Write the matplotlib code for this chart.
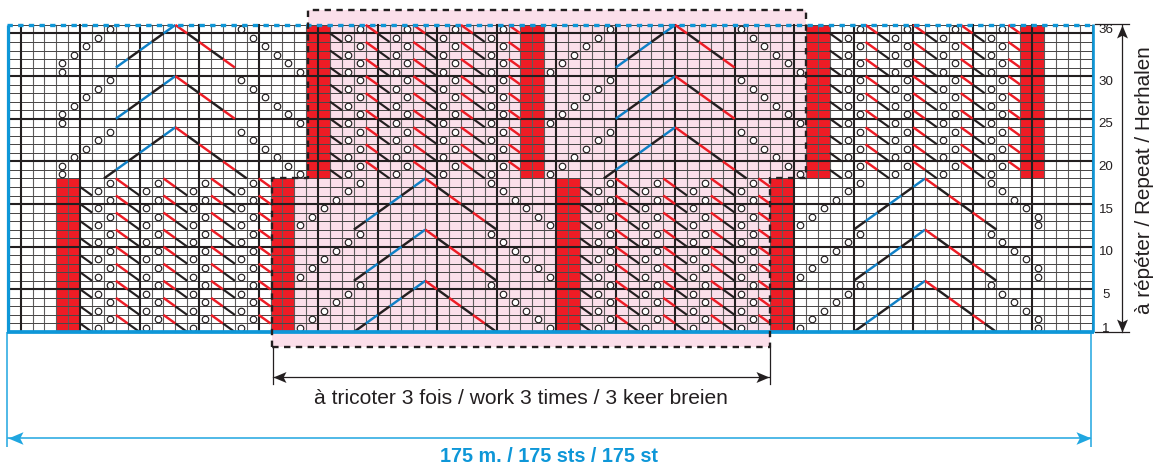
import matplotlib
matplotlib.use("Agg")
import matplotlib.pyplot as plt
from matplotlib.patches import Polygon

# ---------- data (columns counted from the left edge, rows from the bottom) ----------
n_cols = 91
n_rows = 36
heavy_cols = [1, 6, 11, 16, 21, 26, 31, 36, 41, 46, 51, 56, 61, 66, 71, 76, 81, 86]
heavy_rows = [5, 10, 15, 20, 25, 30, 35]
row_labels = [1, 5, 10, 15, 20, 25, 30, 36]

red_cols_upper = [25, 26, 43, 44, 67, 68, 85, 86]
red_cols_lower = [4, 5, 22, 23, 46, 47, 64, 65]

rows_upper_even = [20, 22, 24, 26, 28, 30, 32, 34, 36]
rows_upper_odd = [19, 21, 23, 25, 27, 29, 31, 33, 35]
rows_lower_even = [2, 4, 6, 8, 10, 12, 14, 16, 18]
rows_lower_odd = [1, 3, 5, 7, 9, 11, 13, 15, 17]

lace_upper_even_yo = [29, 33, 37, 41, 71, 75, 79, 83]
lace_upper_even_red = [30, 34, 38, 42, 72, 76, 80, 84]
lace_upper_odd_black = [27, 31, 35, 39, 69, 73, 77, 81]
lace_upper_odd_yo = [28, 32, 36, 40, 70, 74, 78, 82]

lace_lower_even_yo = [8, 12, 16, 20, 50, 54, 58, 62]
lace_lower_even_red = [9, 13, 17, 21, 51, 55, 59, 63]
lace_lower_odd_black = [6, 10, 14, 18, 48, 52, 56, 60]
lace_lower_odd_yo = [7, 11, 15, 19, 49, 53, 57, 61]

# chevrons: apex column, apex grid line, number of stitches per side
chevron_cols = [14, 14, 14, 56, 56, 56, 35, 35, 35, 77, 77, 77]
chevron_tops = [36, 30, 24, 36, 30, 24, 18, 12, 6, 18, 12, 6]
chevron_lens = [5, 5, 6, 5, 5, 6, 6, 6, 6, 6, 6, 6]

# diagonal yarn-overs, one list of rows and one list of columns
diag_rows_upper = [36, 35, 34, 33, 32, 31, 30, 29, 28, 27, 26, 25, 24, 23, 22, 21, 20, 19]
diag_cols_a = [8, 7, 6, 5, 4, 4, 8, 7, 6, 5, 4, 4, 8, 7, 6, 5, 4, 4]
diag_cols_b = [19, 20, 21, 22, 23, 24, 19, 20, 21, 22, 23, 24, 19, 20, 21, 22, 23, 24]
diag_cols_c = [50, 49, 48, 47, 46, 45, 50, 49, 48, 47, 46, 45, 50, 49, 48, 47, 46, 45]
diag_cols_d = [61, 62, 63, 64, 65, 66, 61, 62, 63, 64, 65, 66, 61, 62, 63, 64, 65, 66]
diag_rows_lower = [18, 17, 16, 15, 14, 13, 12, 11, 10, 9, 8, 7, 6, 5, 4, 3, 2, 1]
diag_cols_e = [29, 28, 27, 26, 25, 24, 29, 28, 27, 26, 25, 24, 29, 28, 27, 26, 25, 24]
diag_cols_f = [40, 41, 42, 43, 44, 45, 40, 41, 42, 43, 44, 45, 40, 41, 42, 43, 44, 45]
diag_cols_g = [71, 70, 69, 68, 67, 66, 71, 70, 69, 68, 67, 66, 71, 70, 69, 68, 67, 66]
diag_cols_h = [82, 83, 84, 85, 86, 86, 82, 83, 84, 85, 86, 86, 82, 83, 84, 85, 86, 86]

text_repeat = "à répéter / Repeat / Herhalen"
text_times = "à tricoter 3 fois / work 3 times / 3 keer breien"
text_total = "175 m. / 175 sts / 175 st"

# ---------- styles ----------
PINK = "#fbdfea"
RED = "#ee1c25"
CYAN = "#0e97d8"
LCYAN = "#1fa6e0"
DBLUE = "#0f80c6"
INK = "#231f20"
W, H = 1155, 467
CW, RH = 11.9, 8.53
X0, Y0 = 8.77, 332.0


def gx(px):
    return (px - X0) / CW


def gy(py):
    return (Y0 - py) / RH


plt.rcParams["font.family"] = ["Liberation Sans", "DejaVu Sans"]
fig = plt.figure(figsize=(W / 100, H / 100), dpi=100)
ax = fig.add_axes([0, 0, 1, 1])
ax.set_xlim(gx(0), gx(W))
ax.set_ylim(gy(H), gy(0))
ax.axis("off")

# pink repeat panel
LOWER_L, UPPER_L = gx(271.5), gx(308)
ax.add_patch(Polygon([(LOWER_L, gy(347)), (LOWER_L, 18), (UPPER_L, 18), (UPPER_L, gy(10)),
                      (67, gy(10)), (67, 18), (64, 18), (64, gy(347))],
                     closed=True, fc=PINK, ec="none", zorder=1))

# red columns
for c in red_cols_upper:
    ax.fill_between([c, c + 1], 18, n_rows, color=RED, lw=0, zorder=2)
for c in red_cols_lower:
    ax.fill_between([c, c + 1], 0, 18, color=RED, lw=0, zorder=2)

# grid
for c in range(n_cols + 1):
    if c not in heavy_cols:
        ax.plot([c, c], [0, n_rows], color="#5f5d5d", lw=0.8, zorder=3)
for r in range(n_rows + 1):
    if r not in heavy_rows:
        ax.plot([0, n_cols], [r, r], color="#4a4848", lw=0.72, zorder=3)
for c in heavy_cols:
    ax.plot([c, c], [0, n_rows], color=INK, lw=1.5, zorder=3.1)
for r in heavy_rows:
    ax.plot([0, n_cols], [r, r], color=INK, lw=1.5, zorder=3.1)

# lace slashes
SL = 1.75
for r in rows_upper_even:
    for c in lace_upper_even_red:
        ax.plot([c, c + 1], [r, r - 1], color=RED, lw=SL, zorder=4, solid_capstyle="butt")
for r in rows_lower_even:
    for c in lace_lower_even_red:
        ax.plot([c, c + 1], [r, r - 1], color=RED, lw=SL, zorder=4, solid_capstyle="butt")
for r in rows_upper_odd:
    for c in lace_upper_odd_black:
        ax.plot([c, c + 1], [r, r - 1], color=INK, lw=SL - 0.2, zorder=4, solid_capstyle="butt")
for r in rows_lower_odd:
    for c in lace_lower_odd_black:
        ax.plot([c, c + 1], [r, r - 1], color=INK, lw=SL - 0.2, zorder=4, solid_capstyle="butt")

# chevrons
for c0, k0, n in zip(chevron_cols, chevron_tops, chevron_lens):
    for i in range(n):
        left = DBLUE if i % 2 == 0 else INK
        right = RED if i % 2 == 0 else INK
        ax.plot([c0 - i, c0 - i - 1], [k0 - i, k0 - i - 1], color=left, lw=SL, zorder=4,
                solid_capstyle="butt")
        ax.plot([c0 + i, c0 + i + 1], [k0 - i, k0 - i - 1], color=right, lw=SL, zorder=4,
                solid_capstyle="butt")

# yarn-overs
yo_x, yo_y = [], []
for rows, cols in [(rows_upper_even, lace_upper_even_yo), (rows_upper_odd, lace_upper_odd_yo),
                   (rows_lower_even, lace_lower_even_yo), (rows_lower_odd, lace_lower_odd_yo)]:
    for r in rows:
        for c in cols:
            yo_x.append(c + 0.5)
            yo_y.append(r - 0.5)
for rows, cols in [(diag_rows_upper, diag_cols_a), (diag_rows_upper, diag_cols_b),
                   (diag_rows_upper, diag_cols_c), (diag_rows_upper, diag_cols_d),
                   (diag_rows_lower, diag_cols_e), (diag_rows_lower, diag_cols_f),
                   (diag_rows_lower, diag_cols_g), (diag_rows_lower, diag_cols_h)]:
    yo_x.extend(c + 0.5 for c in cols)
    yo_y.extend(r - 0.5 for r in rows)
ax.plot(yo_x, yo_y, ls="none", marker="o", ms=4.7, mfc="white", mec=INK, mew=0.85, zorder=5)

# chart frame
ax.plot([gx(8.3), gx(8.3)], [0, n_rows], color=CYAN, lw=2.3, zorder=6, solid_capstyle="butt")
ax.plot([gx(1093), gx(1093)], [0, n_rows + 0.1], color=CYAN, lw=1.9, zorder=6, solid_capstyle="butt")
ax.plot([gx(7), gx(1094)], [0, 0], color=CYAN, lw=2.7, zorder=6, solid_capstyle="butt")
ax.plot([gx(7), gx(1094)], [n_rows, n_rows], color=CYAN, lw=2.4, zorder=7,
        dashes=(1.6, 1.6), dash_capstyle="butt")

# dashed outline of the repeat
ax.plot([LOWER_L, LOWER_L, UPPER_L, UPPER_L, 67, 67, 64, 64, LOWER_L],
        [gy(347), 18, 18, gy(10), gy(10), 18, 18, gy(347), gy(347)],
        color=INK, lw=1.7, zorder=8, dashes=(2.7, 2.3), dash_capstyle="butt")


def head(x, y, angle, size, color, z=9):
    """Notched arrow head, tip on (x, y), pointing along angle (0=left, 1=right, 2=up, 3=down)."""
    base = [(0, 0), (1, 0.42), (0.78, 0), (1, -0.42), (0, 0)]
    if angle == 1:
        base = [(-a, b) for a, b in base]
    elif angle == 2:
        base = [(b, -a) for a, b in base]
    elif angle == 3:
        base = [(b, a) for a, b in base]
    ax.plot([x], [y], marker=base, ms=size * 0.72 * 2, mfc=color, mec=color, mew=0, ls="none",
            zorder=z, clip_on=False)


# repeat width arrow
for px in (272.5, 769.5):
    ax.plot([gx(px), gx(px)], [gy(347), gy(384)], color=INK, lw=0.9, zorder=9)
ax.plot([gx(273), gx(769)], [gy(377.3), gy(377.3)], color=INK, lw=0.9, zorder=9)
head(gx(273), gy(377.3), 0, 13, INK)
head(gx(769), gy(377.3), 1, 13, INK)
ax.text(gx(520.5), gy(398), text_times, fontsize=15.1, color=INK, ha="center", va="center")

# total width arrow
ax.plot([gx(7), gx(7)], [0, gy(447)], color=LCYAN, lw=1.1, zorder=5, solid_capstyle="butt")
ax.plot([gx(1090.7), gx(1090.7)], [0, gy(447)], color=LCYAN, lw=1.1, zorder=5, solid_capstyle="butt")
ax.plot([gx(8), gx(1090)], [gy(438), gy(438)], color=LCYAN, lw=1.1, zorder=9)
head(gx(7.5), gy(438), 0, 15, LCYAN)
head(gx(1090.5), gy(438), 1, 15, LCYAN)
ax.text(gx(549), gy(456), text_total, fontsize=14.2, fontweight="bold", color=CYAN,
        ha="center", va="center")

# row labels and repeat arrow
for r in row_labels:
    ax.text(gx(1106), r - 0.65, str(r), fontsize=9.6, color=INK, ha="center", va="center",
            family=["Liberation Sans Narrow", "Liberation Sans"])
for k in (0, n_rows):
    ax.plot([gx(1095), gx(1129)], [k + 0.05, k + 0.05], color=INK, lw=0.9, zorder=5)
ax.plot([gx(1121.7), gx(1121.7)], [0, n_rows], color=INK, lw=0.9, zorder=5)
head(gx(1121.7), n_rows, 2, 13, INK)
head(gx(1121.7), 0, 3, 13, INK)
ax.text(gx(1145), gy(180), text_repeat, fontsize=14.9, color=INK, rotation=90,
        ha="center", va="center")

fig.savefig("out.png", dpi=100)
